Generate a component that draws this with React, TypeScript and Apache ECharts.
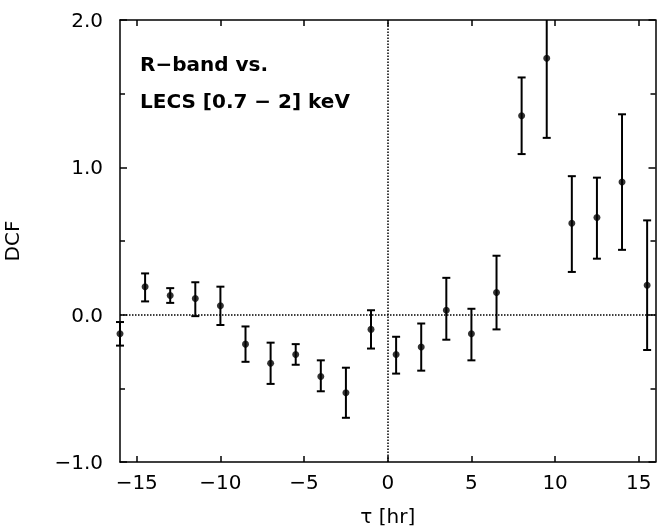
import React, { useEffect, useRef } from "react";
import * as echarts from "echarts";

// Time lag τ [hr]
const tau = [-16, -14.5, -13, -11.5, -10, -8.5, -7, -5.5, -4, -2.5, -1, 0.5, 2, 3.5, 5, 6.5, 8, 9.5, 11, 12.5, 14, 15.5];
// DCF values
const dcf = [-0.13, 0.19, 0.13, 0.11, 0.06, -0.2, -0.33, -0.27, -0.42, -0.53, -0.1, -0.27, -0.22, 0.03, -0.13, 0.15, 1.35, 1.74, 0.62, 0.66, 0.9, 0.2];
// Error bar upper ends
const dcfHigh = [-0.05, 0.28, 0.18, 0.22, 0.19, -0.08, -0.19, -0.2, -0.31, -0.36, 0.03, -0.15, -0.06, 0.25, 0.04, 0.4, 1.61, 2.27, 0.94, 0.93, 1.36, 0.64];
// Error bar lower ends
const dcfLow = [-0.21, 0.09, 0.08, -0.01, -0.07, -0.32, -0.47, -0.34, -0.52, -0.7, -0.23, -0.4, -0.38, -0.17, -0.31, -0.1, 1.09, 1.2, 0.29, 0.38, 0.44, -0.24];

const xTicks = [-15, -10, -5, 0, 5, 10, 15];
const annotationLines = ["R\u2212band vs.", "LECS [0.7 \u2212 2] keV"];
const xName = "\u03c4 [hr]";
const yName = "DCF";

const X_MIN = -16;
const X_MAX = 16;
const Y_MIN = -1;
const Y_MAX = 2;

const fmt = (v: number, d: number) => {
  const s = Math.abs(v).toFixed(d);
  return v < 0 ? "\u2212" + s : s;
};

export default function App() {
  const ref = useRef<HTMLDivElement>(null);
  useEffect(() => {
    const chart = echarts.init(ref.current!, null, { renderer: "svg" });
    const font = "DejaVu Sans";
    const black = "#000";
    const axisLine = { show: true, onZero: false, lineStyle: { color: black, width: 1.5 } };
    const tickStyle = { color: black, width: 1.5 };
    const xBase: any = {
      type: "value",
      min: X_MIN,
      max: X_MAX,
      axisLine,
      splitLine: { show: false },
      axisTick: { show: true, inside: true, length: 6, customValues: xTicks, lineStyle: tickStyle },
    };
    const yBase: any = {
      type: "value",
      min: Y_MIN,
      max: Y_MAX,
      interval: 1,
      axisLine,
      splitLine: { show: false },
      minorSplitLine: { show: false },
      axisTick: { show: true, inside: true, length: 7, lineStyle: tickStyle },
      minorTick: { show: true, splitNumber: 2, length: 5, lineStyle: tickStyle },
    };
    chart.setOption({
      animation: false,
      grid: { left: 120, right: 1.5, top: 20, bottom: 66, containLabel: false, outerBoundsMode: "none" },
      xAxis: [
        {
          ...xBase,
          position: "bottom",
          axisLabel: {
            customValues: xTicks,
            formatter: (v: number) => fmt(v, 0),
            color: black,
            fontFamily: font,
            fontSize: 20,
            margin: 10,
          },
          name: xName,
          nameLocation: "middle",
          nameGap: 44,
          nameTextStyle: { color: black, fontFamily: font, fontSize: 20 },
        },
        { ...xBase, position: "top", axisLabel: { show: false } },
      ],
      yAxis: [
        {
          ...yBase,
          position: "left",
          axisLabel: {
            formatter: (v: number) => fmt(v, 1),
            color: black,
            fontFamily: font,
            fontSize: 20,
            margin: 17,
          },
          name: yName,
          nameLocation: "middle",
          nameGap: 98,
          nameTextStyle: { color: black, fontFamily: font, fontSize: 20 },
        },
        { ...yBase, position: "right", axisLabel: { show: false } },
      ],
      series: [
        {
          type: "custom",
          xAxisIndex: 0,
          yAxisIndex: 0,
          clip: false,
          data: tau.map((t, i) => [t, dcfLow[i], dcfHigh[i]]),
          encode: { x: 0, y: [1, 2] },
          renderItem: (params: any, api: any) => {
            const x = api.value(0);
            const lo = api.value(1);
            const hi = api.value(2);
            const hiC = Math.min(hi, Y_MAX);
            const pLo = api.coord([x, lo]);
            const pHi = api.coord([x, hiC]);
            const w = 4;
            const style = { stroke: black, lineWidth: 2 };
            const children: any[] = [
              { type: "line", shape: { x1: pLo[0], y1: pLo[1], x2: pHi[0], y2: pHi[1] }, style },
              { type: "line", shape: { x1: pLo[0] - w, y1: pLo[1], x2: pLo[0] + w, y2: pLo[1] }, style },
            ];
            if (hi <= Y_MAX) {
              children.push({ type: "line", shape: { x1: pHi[0] - w, y1: pHi[1], x2: pHi[0] + w, y2: pHi[1] }, style });
            }
            return { type: "group", children };
          },
        },
        {
          type: "scatter",
          xAxisIndex: 0,
          yAxisIndex: 0,
          symbol: "circle",
          symbolSize: 7,
          itemStyle: { color: black },
          data: tau.map((t, i) => [t, dcf[i]]),
          z: 3,
          markLine: {
            silent: true,
            symbol: ["none", "none"],
            label: { show: false },
            lineStyle: { type: "dotted", color: black, width: 1.5 },
            data: [{ xAxis: 0 }, { yAxis: 0 }],
          },
        },
      ],
      graphic: annotationLines.map((txt, i) => ({
        type: "text",
        x: 140,
        y: 64 + i * 37,
        style: {
          text: txt,
          fill: black,
          font: "bold 20px 'DejaVu Sans'",
          verticalAlign: "middle",
          align: "left",
        },
      })),
    });
    return () => chart.dispose();
  }, []);
  return <div ref={ref} style={{ position: "fixed", left: 0, top: 0, width: 657, height: 528 }} />;
}
